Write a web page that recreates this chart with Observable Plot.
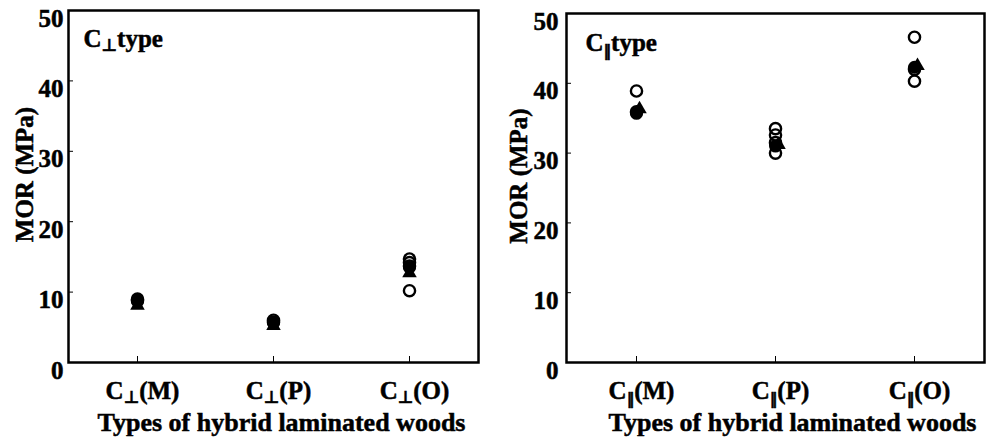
<!DOCTYPE html>
<html><head><meta charset="utf-8">
<script src="https://cdn.jsdelivr.net/npm/d3@7"></script>
<script src="https://cdn.jsdelivr.net/npm/@observablehq/plot@0.6"></script>
<style>
body{margin:0;background:#fff;}
#wrap{display:flex;width:986px;height:444px;overflow:hidden;}
svg{display:block;flex:none;}
svg text{stroke:#000;stroke-width:0.5px;}
</style></head><body><div id="wrap"></div>
<script>
const categories = ["M", "P", "O"];
const yTicks = [0, 10, 20, 30, 40, 50];
const yLabel = "MOR (MPa)";
const xLabel = "Types of hybrid laminated woods";

// C⊥ type (values per category M, P, O)
const perpOpen = [[9.0, 8.8], [6.0, 5.7], [14.7, 14.2, 13.7, 10.2]];
const perpFilled = [8.7, 5.7, 13.5];
const perpTriangle = [8.1, 5.2, 12.7];

// C‖ type
const parOpen = [[38.9, 35.9], [33.5, 32.6, 31.5, 30.0], [46.6, 42.0, 40.3]];
const parFilled = [35.7, 31.0, 42.3];
const parTriangle = [36.3, 31.2, 42.5];

function toRows(vals) { return vals.map((v, i) => ({cat: categories[i], v})); }
function toRowsNested(vals) { return vals.flatMap((arr, i) => arr.map(v => ({cat: categories[i], v}))); }

function subscriptify(svg, sym, size, shift) {
  d3.select(svg).selectAll("text").each(function() {
    const t = this.textContent;
    const i = t.indexOf(sym);
    if (i < 0) return;
    const el = d3.select(this);
    el.text(null);
    el.append("tspan").text(t.slice(0, i));
    el.append("tspan").attr("font-size", size).attr("font-family", "'DejaVu Sans', sans-serif")
      .attr("dy", shift).attr("fill", "#000").text(sym);
    el.append("tspan").attr("dy", -shift).text(t.slice(i + 1));
  });
}

function panel({width, marginLeft, marginRight, marginTop, open, filled, tri, sym, tickPad, yLabDx, xLabDx, tagDx, tagDy, triDx, subSize, subShift}) {
  const svg = Plot.plot({
    width, height: 444, marginLeft, marginRight, marginTop, marginBottom: 82,
    style: {fontFamily: "'Liberation Serif', 'Times New Roman', serif", fontSize: "25px", fontWeight: "bold", color: "#000", background: "#fff"},
    x: {type: "point", domain: categories, padding: 0.5},
    y: {domain: [0, 50]},
    marks: [
      Plot.axisY({ticks: yTicks.slice(1, -1), tickSize: -5, tickFormat: () => "", label: null}),
      Plot.axisY({ticks: yTicks, tickSize: 0, tickPadding: tickPad, dy: 8, label: null}),
      Plot.axisX({tickSize: -6, tickFormat: () => "", label: null}),
      Plot.axisX({tickSize: 0, tickPadding: 19, dx: 5, tickFormat: c => `C${sym}(${c})`, label: null}),
      Plot.frame({stroke: "#000", strokeWidth: 2.5}),
      Plot.dot(toRowsNested(open), {x: "cat", y: "v", r: 5.6, stroke: "#000", strokeWidth: 2.4, fill: "none"}),
      Plot.dot(toRows(filled), {x: "cat", y: "v", r: 6.5, fill: "#000", stroke: "none"}),
      Plot.dot(toRows(tri), {x: "cat", y: "v", r: 5.4, symbol: "triangle", fill: "#000", stroke: "none", dx: triDx}),
      Plot.text([`C${sym}type`], {frameAnchor: "top-left", textAnchor: "start", lineAnchor: "top", dx: tagDx, dy: tagDy}),
      Plot.text([yLabel], {frameAnchor: "left", rotate: -90, textAnchor: "middle", dx: yLabDx, dy: -12}),
      Plot.text([xLabel], {frameAnchor: "bottom", textAnchor: "middle", dy: 68, dx: xLabDx, fontSize: 26})
    ]
  });
  subscriptify(svg, sym, subSize, subShift);
  return svg;
}

const wrap = document.getElementById("wrap");
wrap.append(panel({width: 493, marginLeft: 68, marginRight: 15, marginTop: 10,
  open: perpOpen, filled: perpFilled, tri: perpTriangle, sym: "⊥", tickPad: 5,
  yLabDx: -44, xLabDx: 8, tagDx: 15, tagDy: 19, triDx: 0, subSize: 17, subShift: 4}));
wrap.append(panel({width: 493, marginLeft: 73, marginRight: 2, marginTop: 13,
  open: parOpen, filled: parFilled, tri: parTriangle, sym: "‖", tickPad: 8,
  yLabDx: -48, xLabDx: 17, tagDx: 19, tagDy: 20, triDx: 3, subSize: 15, subShift: 5}));
</script>
</body></html>
